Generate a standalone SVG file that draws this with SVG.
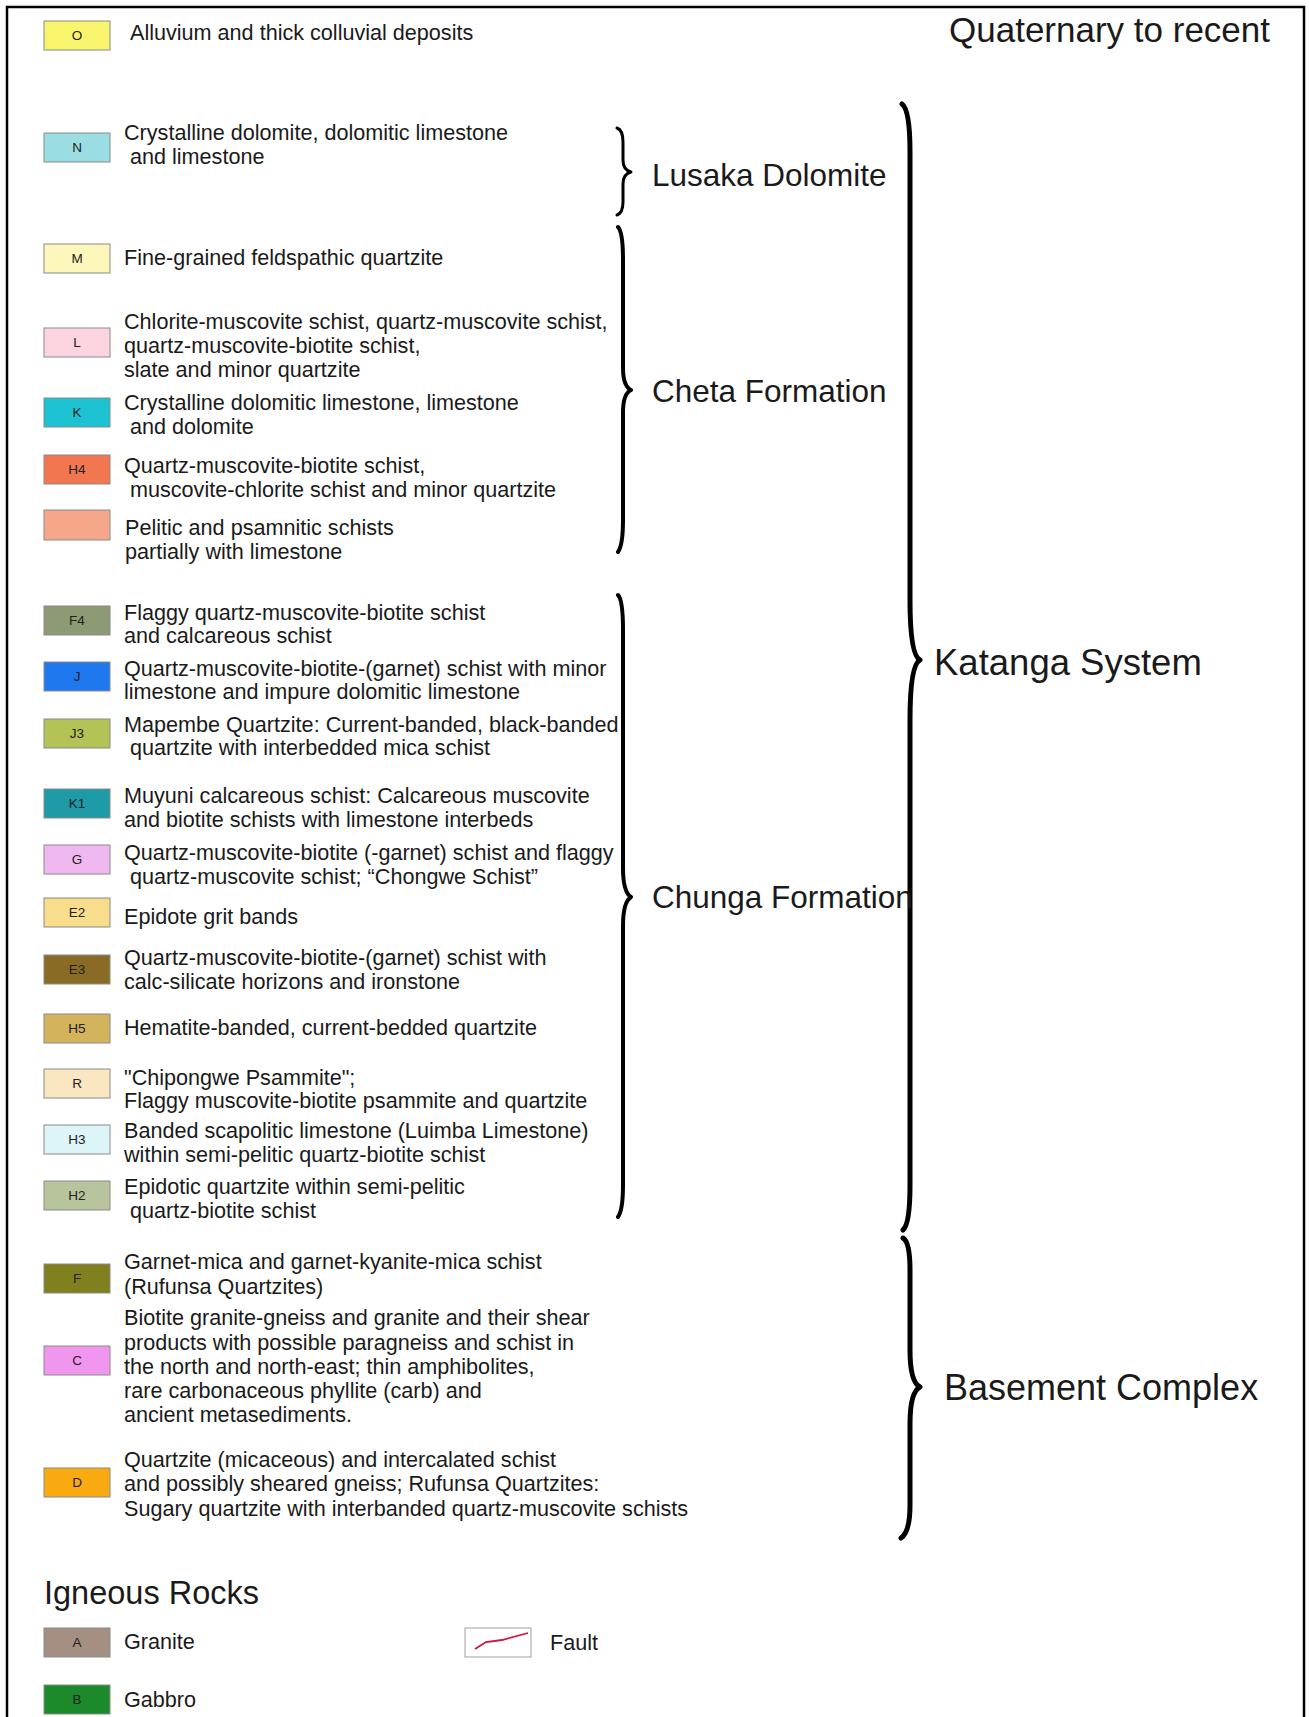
<svg xmlns="http://www.w3.org/2000/svg" width="1309" height="1717" viewBox="0 0 1309 1717">
<style>
.sw{stroke:#8a8a8a;stroke-width:1}
.lab{font-family:"Liberation Sans",Arial,sans-serif;font-size:13.5px;fill:#222;text-anchor:middle}
.t{font-family:"Liberation Sans",Arial,sans-serif;font-size:21.6px;fill:#1a1a1a}
.big{font-family:"Liberation Sans",Arial,sans-serif;font-size:35px;fill:#1a1a1a}
.mid{font-family:"Liberation Sans",Arial,sans-serif;font-size:31.5px;fill:#1a1a1a}
.br{fill:none;stroke:#000;stroke-linecap:round;stroke-linejoin:round}
</style>
<rect x="0" y="0" width="1309" height="1717" fill="#ffffff"/>
<path d="M7 1717 L7 7 L1304 7 L1304 1717" fill="none" stroke="#000" stroke-width="2.5"/>

<g id="legend-O"><rect class="sw" x="44" y="21" width="66" height="29" fill="#f8f56c"/><text class="lab" x="77" y="40">O</text><text class="t" x="130" y="40">Alluvium and thick colluvial deposits</text></g>
<g id="legend-N"><rect class="sw" x="44" y="133" width="66" height="29" fill="#9adde3"/><text class="lab" x="77" y="152">N</text><text class="t" x="124" y="140">Crystalline dolomite, dolomitic limestone</text><text class="t" x="130" y="164">and limestone</text></g>
<g id="legend-M"><rect class="sw" x="44" y="244" width="66" height="29" fill="#fdf7bb"/><text class="lab" x="77" y="263">M</text><text class="t" x="124" y="265">Fine-grained feldspathic quartzite</text></g>
<g id="legend-L"><rect class="sw" x="44" y="328" width="66" height="29" fill="#fbd4e0"/><text class="lab" x="77" y="347">L</text><text class="t" x="124" y="329">Chlorite-muscovite schist, quartz-muscovite schist,</text><text class="t" x="124" y="353">quartz-muscovite-biotite schist,</text><text class="t" x="124" y="377">slate and minor quartzite</text></g>
<g id="legend-K"><rect class="sw" x="44" y="398" width="66" height="29" fill="#1ec3d3"/><text class="lab" x="77" y="417">K</text><text class="t" x="124" y="410">Crystalline dolomitic limestone, limestone</text><text class="t" x="130" y="434">and dolomite</text></g>
<g id="legend-H4"><rect class="sw" x="44" y="455" width="66" height="29" fill="#f27650"/><text class="lab" x="77" y="474">H4</text><text class="t" x="124" y="473">Quartz-muscovite-biotite schist,</text><text class="t" x="130" y="497">muscovite-chlorite schist and minor quartzite</text></g>
<g id="legend-blank"><rect class="sw" x="44" y="510" width="66" height="30" fill="#f6a689"/><text class="t" x="125" y="535">Pelitic and psamnitic schists</text><text class="t" x="125" y="559">partially with limestone</text></g>
<g id="legend-F4"><rect class="sw" x="44" y="606" width="66" height="29" fill="#8e9a73"/><text class="lab" x="77" y="625">F4</text><text class="t" x="124" y="620">Flaggy quartz-muscovite-biotite schist</text><text class="t" x="124" y="643">and calcareous schist</text></g>
<g id="legend-J"><rect class="sw" x="44" y="662" width="66" height="29" fill="#1f78ee"/><text class="lab" x="77" y="681">J</text><text class="t" x="124" y="676">Quartz-muscovite-biotite-(garnet) schist with minor</text><text class="t" x="124" y="699">limestone and impure dolomitic limestone</text></g>
<g id="legend-J3"><rect class="sw" x="44" y="719" width="66" height="29" fill="#b4c256"/><text class="lab" x="77" y="738">J3</text><text class="t" x="124" y="732">Mapembe Quartzite: Current-banded, black-banded</text><text class="t" x="130" y="755">quartzite with interbedded mica schist</text></g>
<g id="legend-K1"><rect class="sw" x="44" y="789" width="66" height="29" fill="#1e9ba6"/><text class="lab" x="77" y="808">K1</text><text class="t" x="124" y="803">Muyuni calcareous schist: Calcareous muscovite</text><text class="t" x="124" y="827">and biotite schists with limestone interbeds</text></g>
<g id="legend-G"><rect class="sw" x="44" y="845" width="66" height="29" fill="#f0b8f0"/><text class="lab" x="77" y="864">G</text><text class="t" x="124" y="860">Quartz-muscovite-biotite (-garnet) schist and flaggy</text><text class="t" x="130" y="884">quartz-muscovite schist; “Chongwe Schist”</text></g>
<g id="legend-E2"><rect class="sw" x="44" y="898" width="66" height="29" fill="#f8de8c"/><text class="lab" x="77" y="917">E2</text><text class="t" x="124" y="924">Epidote grit bands</text></g>
<g id="legend-E3"><rect class="sw" x="44" y="955" width="66" height="29" fill="#8a6b25"/><text class="lab" x="77" y="974">E3</text><text class="t" x="124" y="965">Quartz-muscovite-biotite-(garnet) schist with</text><text class="t" x="124" y="989">calc-silicate horizons and ironstone</text></g>
<g id="legend-H5"><rect class="sw" x="44" y="1014" width="66" height="29" fill="#d3b45c"/><text class="lab" x="77" y="1033">H5</text><text class="t" x="124" y="1035">Hematite-banded, current-bedded quartzite</text></g>
<g id="legend-R"><rect class="sw" x="44" y="1069" width="66" height="29" fill="#fbe6c2"/><text class="lab" x="77" y="1088">R</text><text class="t" x="124" y="1085">"Chipongwe Psammite";</text><text class="t" x="124" y="1108">Flaggy muscovite-biotite psammite and quartzite</text></g>
<g id="legend-H3"><rect class="sw" x="44" y="1125" width="66" height="29" fill="#ddf5f7"/><text class="lab" x="77" y="1144">H3</text><text class="t" x="124" y="1138">Banded scapolitic limestone (Luimba Limestone)</text><text class="t" x="124" y="1162">within semi-pelitic quartz-biotite schist</text></g>
<g id="legend-H2"><rect class="sw" x="44" y="1181" width="66" height="29" fill="#b7c49c"/><text class="lab" x="77" y="1200">H2</text><text class="t" x="124" y="1194">Epidotic quartzite within semi-pelitic</text><text class="t" x="130" y="1218">quartz-biotite schist</text></g>
<g id="legend-F"><rect class="sw" x="44" y="1264" width="66" height="29" fill="#80801e"/><text class="lab" x="77" y="1283">F</text><text class="t" x="124" y="1269">Garnet-mica and garnet-kyanite-mica schist</text><text class="t" x="124" y="1294">(Rufunsa Quartzites)</text></g>
<g id="legend-C"><rect class="sw" x="44" y="1346" width="66" height="29" fill="#f196ee"/><text class="lab" x="77" y="1365">C</text><text class="t" x="124" y="1325">Biotite granite-gneiss and granite and their shear</text><text class="t" x="124" y="1350">products with possible paragneiss and schist in</text><text class="t" x="124" y="1374">the north and north-east; thin amphibolites,</text><text class="t" x="124" y="1398">rare carbonaceous phyllite (carb) and</text><text class="t" x="124" y="1422">ancient metasediments.</text></g>
<g id="legend-D"><rect class="sw" x="44" y="1468" width="66" height="29" fill="#f9aa10"/><text class="lab" x="77" y="1487">D</text><text class="t" x="124" y="1467">Quartzite (micaceous) and intercalated schist</text><text class="t" x="124" y="1491">and possibly sheared gneiss; Rufunsa Quartzites:</text><text class="t" x="124" y="1516">Sugary quartzite with interbanded quartz-muscovite schists</text></g>

<text id="igneous-title" class="mid" x="44" y="1604" style="font-size:32.5px">Igneous Rocks</text>
<g id="legend-A"><rect class="sw" x="44" y="1628" width="66" height="29" fill="#a48f82"/><text class="lab" x="77" y="1647">A</text><text class="t" x="124" y="1649">Granite</text></g>
<g id="legend-B"><rect class="sw" x="44" y="1685" width="66" height="29" fill="#1c8a2b"/><text class="lab" x="77" y="1704">B</text><text class="t" x="124" y="1707">Gabbro</text></g>
<g id="legend-fault"><rect x="465" y="1628" width="66" height="29" fill="#fff" stroke="#a0a0a0" stroke-width="1"/><polyline points="475,1649 486,1642 502,1640 528,1633" fill="none" stroke="#d01440" stroke-width="1.8"/><text class="t" x="550" y="1650">Fault</text></g>

<g id="connectors">
<path id="brace-lusaka" class="br" stroke-width="3" d="M617 128 Q623 130 623 142 L623 160 Q623 170 631 172 Q623 174 623 184 L623 202 Q623 213 617 215"/>
<path id="brace-cheta" class="br" stroke-width="4" d="M618 227 Q623 232 623 260 L623 368 Q623 386 631 390 Q623 394 623 412 L623 520 Q623 545 618 552"/>
<path id="brace-chunga" class="br" stroke-width="4" d="M618 595 Q623 600 623 630 L623 868 Q623 892 631 897 Q623 902 623 926 L623 1185 Q623 1210 618 1217"/>
<path id="brace-katanga" class="br" stroke-width="5" d="M902 104 Q910 110 910 152 L910 600 Q910 655 920 660 Q910 665 910 720 L910 1185 Q910 1224 903 1230"/>
<path id="brace-basement" class="br" stroke-width="5" d="M903 1238 Q910 1242 910 1270 L910 1350 Q910 1382 920 1387 Q910 1392 910 1424 L910 1505 Q910 1532 901 1538"/>
</g>

<g id="group-labels">
<text class="big" x="949" y="42">Quaternary to recent</text>
<text class="mid" x="652" y="186">Lusaka Dolomite</text>
<text class="mid" x="652" y="402">Cheta Formation</text>
<text class="mid" x="652" y="908">Chunga Formation</text>
<text class="big" x="934" y="675" style="font-size:36.5px">Katanga System</text>
<text class="big" x="944" y="1400" style="font-size:36px">Basement Complex</text>
</g>
</svg>
